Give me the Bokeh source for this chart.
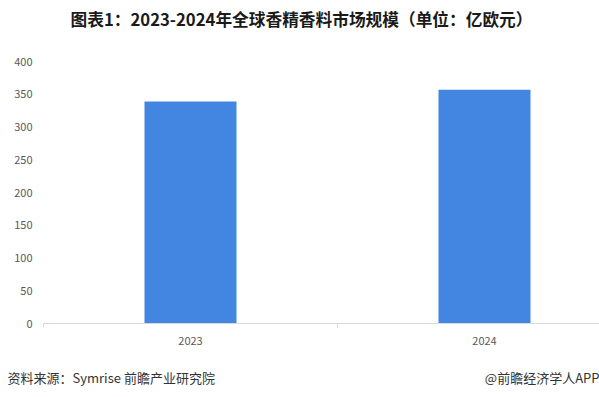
from bokeh.plotting import figure
from bokeh.models import FixedTicker, ColumnDataSource, Range1d
from bokeh.layouts import column, row
from bokeh.core.properties import value
from bokeh.embed import file_html
from bokeh.resources import INLINE

years = ["2023", "2024"]
values = [339, 357]
y_ticks = [0, 50, 100, 150, 200, 250, 300, 350, 400]
title_text = "图表1：2023-2024年全球香精香料市场规模（单位：亿欧元）"
source_text = "资料来源：Symrise  前瞻产业研究院"
brand_text = "@前瞻经济学人APP"

W, H = 599, 397
font = "Noto Sans CJK SC"

TH = 40    # title strip height
FH = 42    # footer strip height
CH = H - TH - FH

def strip(h):
    f = figure(width=W, height=h, output_backend="svg", toolbar_location=None,
               x_range=Range1d(0, W), y_range=Range1d(h, 0),
               x_axis_type=None, y_axis_type=None, min_border=0)
    f.outline_line_color = None
    f.xgrid.visible = False
    f.ygrid.visible = False
    return f

# title strip
pt = strip(TH)
pt.text(x=[301], y=[18], text=[title_text], text_font=value(font),
        text_font_size="16.7px", text_font_style="bold", text_color="#1a1a1a",
        text_align="center", text_baseline="middle")

# chart
left, right = 43, 0
top = 61 - TH
bottom = (TH + CH) - 323
frame_w = W - left - right
cat_px = 294.0

xs = list(range(len(years)))
src = ColumnDataSource(dict(x=xs, top=values))

p = figure(width=W, height=CH, output_backend="svg", toolbar_location=None,
           x_range=Range1d(-0.5, -0.5 + frame_w / cat_px),
           y_range=Range1d(0, 400),
           min_border_left=left, min_border_right=right,
           min_border_top=top, min_border_bottom=bottom)
p.outline_line_color = None
p.xgrid.visible = False
p.ygrid.visible = False

p.vbar(x="x", top="top", width=0.313, source=src, color="#4286E2", line_color=None)

xa = p.xaxis[0]
xa.ticker = FixedTicker(ticks=xs, minor_ticks=[i - 0.5 for i in range(len(years) + 1)])
xa.major_label_overrides = {i: y for i, y in enumerate(years)}
xa.major_tick_line_color = None
xa.major_tick_in = 0
xa.major_tick_out = 0
xa.minor_tick_in = 0
xa.minor_tick_out = 4
xa.minor_tick_line_color = "#d9d9d9"
xa.axis_line_color = "#d9d9d9"
xa.major_label_text_font = font
xa.major_label_text_font_size = "11px"
xa.major_label_text_color = "#595959"
xa.major_label_standoff = 9

ya = p.yaxis[0]
ya.ticker = FixedTicker(ticks=y_ticks)
ya.axis_line_color = None
ya.major_tick_line_color = None
ya.minor_tick_line_color = None
ya.major_tick_out = 0
ya.major_tick_in = 0
ya.major_label_text_font = font
ya.major_label_text_font_size = "11px"
ya.major_label_text_color = "#595959"
ya.major_label_standoff = 11

# footer strip
pf = strip(FH)
pf.text(x=[7], y=[377 - (TH + CH)], text=[source_text], text_font=value(font),
        text_font_size="13px", text_color="#333333",
        text_align="left", text_baseline="middle")
pf.text(x=[599], y=[377 - (TH + CH)], text=[brand_text], text_font=value(font),
        text_font_size="13px", text_color="#333333",
        text_align="right", text_baseline="middle")

layout = column(pt, row(p), pf, spacing=0)
open("out.html", "w").write(file_html(layout, INLINE))
